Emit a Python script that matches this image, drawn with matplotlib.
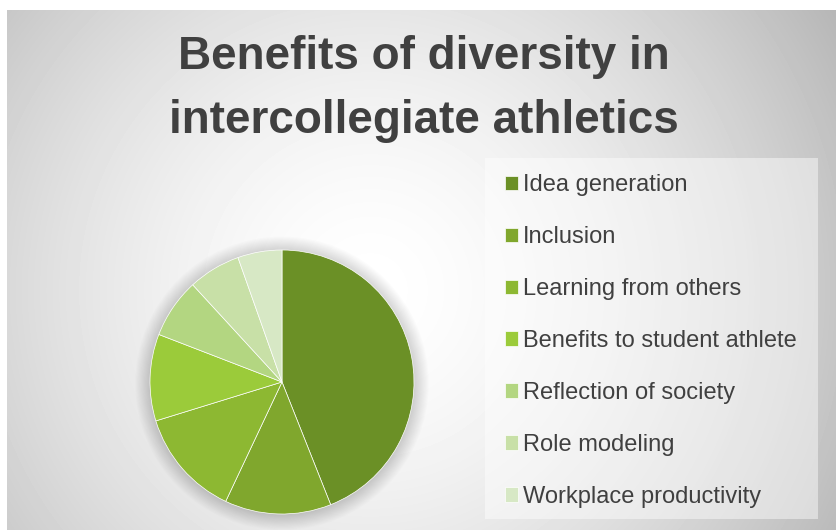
import numpy as np
import matplotlib
matplotlib.use('Agg')
import matplotlib.pyplot as plt
from matplotlib.patches import Circle, Rectangle

# data
labels = ['Idea generation', 'Inclusion', 'Learning from others',
          'Benefits to student athlete', 'Reflection of society',
          'Role modeling', 'Workplace productivity']
shares = [43.9, 13.0, 13.2, 10.6, 7.3, 6.4, 5.4]
colors = ['#6b9026', '#80a72d', '#8db832', '#9bcb3a',
          '#b3d681', '#c8e0a7', '#d7e8c5']
title = 'Benefits of diversity in\nintercollegiate athletics'

W, H = 836, 530
fig = plt.figure(figsize=(W / 100, H / 100), dpi=100)
fig.patch.set_facecolor('white')

# radial grey background
bx0, by0 = 7, 10
bg = fig.add_axes([bx0 / W, 0, 1 - bx0 / W, 1 - by0 / H])
yy, xx = np.mgrid[by0:H, bx0:W]
r = np.hypot(xx - 370, yy - 290) / 560
grad = 1 - 0.30 * np.clip(r, 0, 1) ** 1.6
bg.imshow(grad, cmap='gray', vmin=0, vmax=1, aspect='auto', interpolation='bilinear')
bg.axis('off')

# title
fig.text(424 / W, 1 - 133 / H, title, ha='center', va='baseline',
         fontsize=33, fontweight='bold', color='#404040',
         family='Liberation Sans', linespacing=1.6)

# pie
cx, cy, rad = 282, 382, 132
ax = fig.add_axes([(cx - rad) / W, 1 - (cy + rad) / H, 2 * rad / W, 2 * rad / H])
for k in range(15):
    ax.add_patch(Circle((0, -0.01), 1 + 0.008 * k, color='black',
                        alpha=0.012, lw=0, clip_on=False, zorder=0))
wedges, _ = ax.pie(shares, colors=colors, startangle=90, counterclock=False,
                   radius=1, wedgeprops=dict(edgecolor='white', linewidth=0.5))
for w in wedges:
    w.set_zorder(2)
ax.set_xlim(-1, 1)
ax.set_ylim(-1, 1)
ax.axis('off')

# legend box
fig.patches.append(Rectangle((485 / W, 1 - 519 / H), 333 / W, 361 / H,
                             transform=fig.transFigure, facecolor='white',
                             alpha=0.45, edgecolor='none', zorder=1))
leg = fig.legend(wedges, labels, loc='upper left',
                 bbox_to_anchor=(505 / W, 1 - 174 / H), frameon=False,
                 prop=dict(family='Liberation Sans', size=17),
                 labelcolor='#404040', handlelength=0.55, handleheight=0.55,
                 handletextpad=0.21, labelspacing=1.27, borderpad=0,
                 borderaxespad=0)

fig.savefig('out.png', dpi=100)
